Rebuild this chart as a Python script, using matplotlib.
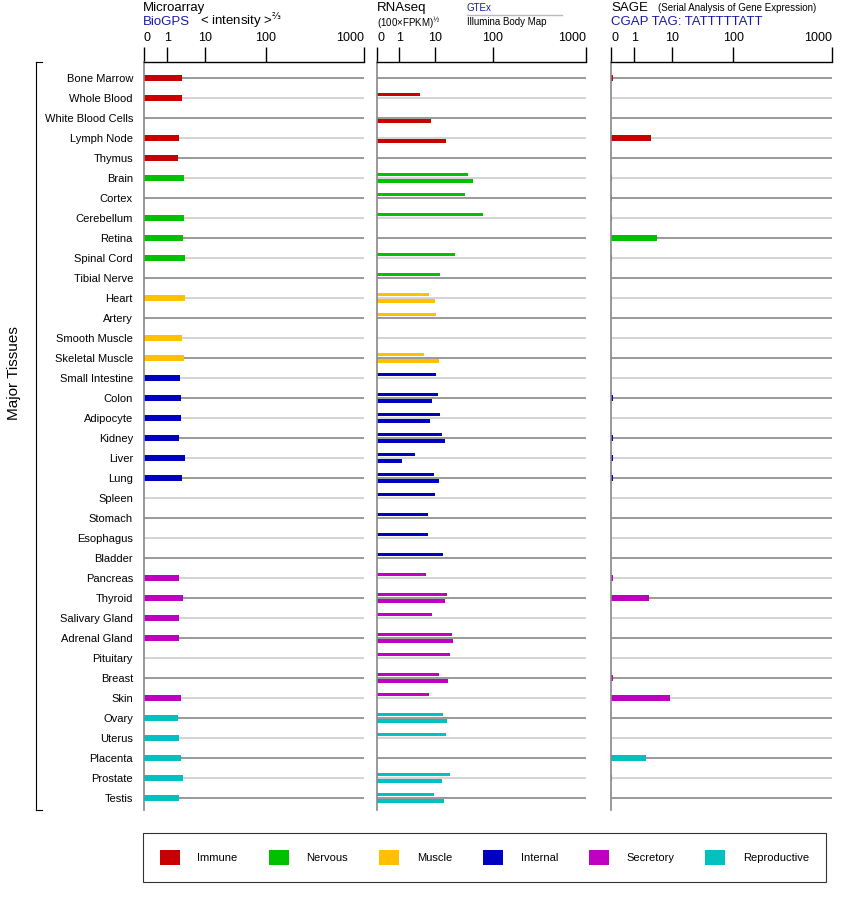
import numpy as np
import matplotlib.pyplot as plt
from matplotlib.patches import Patch
from matplotlib.lines import Line2D

plt.rcParams['font.family'] = 'Liberation Sans'

tissues = ['Bone Marrow', 'Whole Blood', 'White Blood Cells', 'Lymph Node', 'Thymus',
           'Brain', 'Cortex', 'Cerebellum', 'Retina', 'Spinal Cord', 'Tibial Nerve',
           'Heart', 'Artery', 'Smooth Muscle', 'Skeletal Muscle',
           'Small Intestine', 'Colon', 'Adipocyte', 'Kidney', 'Liver', 'Lung', 'Spleen',
           'Stomach', 'Esophagus', 'Bladder',
           'Pancreas', 'Thyroid', 'Salivary Gland', 'Adrenal Gland', 'Pituitary', 'Breast', 'Skin',
           'Ovary', 'Uterus', 'Placenta', 'Prostate', 'Testis']
groups = ['Immune'] * 5 + ['Nervous'] * 6 + ['Muscle'] * 4 + ['Internal'] * 10 + \
         ['Secretory'] * 7 + ['Reproductive'] * 5
group_names = ['Immune', 'Nervous', 'Muscle', 'Internal', 'Secretory', 'Reproductive']
group_colors = ['#c80000', '#00c000', '#ffc000', '#0000c0', '#c000c0', '#00c0c0']

microarray = [2.9, 2.9, 0, 2.4, 2.2,
              3.2, 0, 3.2, 3.0, 3.4, 0,
              3.4, 0, 2.9, 3.2,
              2.5, 2.7, 2.7, 2.4, 3.4, 2.9, 0, 0, 0, 0,
              2.4, 3.0, 2.4, 2.4, 0, 0, 2.7,
              2.2, 2.4, 2.7, 3.0, 2.4]
gtex = [0, 4.4, 0, 0, 0,
        38.1, 33.8, 68.7, 0, 22.7, 12.3,
        7.2, 10.4, 0, 5.5,
        10.4, 11.3, 12.3, 13.4, 3.2, 9.4, 10.0, 6.8, 6.8, 13.9,
        6.1, 16.4, 8.5, 20.1, 18.5, 11.8, 7.2,
        13.9, 15.7, 0, 18.5, 9.4]
illumina = [0, 0, 8.0, 15.7, 0,
            46.4, 0, 0, 0, 0, 0,
            10.0, 0, 0, 11.8,
            0, 8.5, 7.6, 15.1, 1.3, 11.8, 0, 0, 0, 0,
            0, 15.1, 0, 20.9, 0, 17.1, 0,
            16.4, 0, 0, 13.4, 14.5]
sage = [0.05, 0, 0, 3.2, 0,
        0.03, 0.03, 0.03, 4.5, 0.03, 0,
        0.03, 0, 0, 0.03,
        0, 0.05, 0, 0.05, 0.05, 0.05, 0, 0, 0, 0,
        0.05, 2.85, 0, 0, 0, 0.05, 8.8,
        0, 0, 2.34, 0.03, 0]

tick_vals = [0, 1, 10, 100, 1000]
tick_frac = [0, 0.106, 0.278, 0.553, 1.0]
u_anchor = np.log10(np.array(tick_vals) + 1.0)


def fwd(x):
    return np.interp(np.log10(np.clip(x, 0, None) + 1.0), u_anchor, tick_frac)


def inv(f):
    return 10 ** np.interp(f, tick_frac, u_anchor) - 1.0


W, H = 842, 900
fig = plt.figure(figsize=(W / 100, H / 100), dpi=100)
colors = [group_colors[group_names.index(g)] for g in groups]
rows = np.arange(len(tissues))


def make_panel(x0, x1):
    ax = fig.add_axes([x0 / W, 1 - 810 / H, (x1 - x0) / W, (810 - 62) / H])
    ax.set_xscale('function', functions=(fwd, inv))
    ax.set_xlim(0, 1000)
    ax.set_ylim(36.6, -0.8)
    for i in rows:
        ax.axhline(i, color='#888888' if i % 2 == 0 else '#cccccc', lw=1.2, zorder=0)
    ax.xaxis.tick_top()
    ax.set_xticks(tick_vals)
    ax.set_xticklabels([str(v) for v in tick_vals])
    ax.get_xticklabels()[-1].set_horizontalalignment('right')
    ax.get_xticklabels()[0].set_horizontalalignment('left')
    ax.xaxis.set_minor_locator(plt.NullLocator())
    ax.tick_params(axis='x', direction='out', length=11, width=1, labelsize=9, pad=2)
    ax.set_yticks([])
    for s in ['right', 'bottom']:
        ax.spines[s].set_visible(False)
    ax.spines['top'].set_linewidth(1)
    ax.spines['left'].set_color('#888888')
    ax.spines['left'].set_linewidth(1.2)
    return ax


ax1 = make_panel(144, 364)
ax1.barh(rows, microarray, height=0.27, color=colors, zorder=2)
ax1.set_yticks(rows)
ax1.set_yticklabels(tissues, fontsize=8)
ax1.tick_params(axis='y', length=0, pad=8)

ax2 = make_panel(377, 586)
ax2.barh(rows - 0.18, gtex, height=0.16, color=colors, zorder=2)
ax2.barh(rows + 0.15, illumina, height=0.16, color=colors, zorder=2)

ax3 = make_panel(611, 832)
ax3.barh(rows, sage, height=0.27, color=colors, zorder=2)

# header texts
def t(x, y, s, **kw):
    fig.text(x / W, 1 - y / H, s, va='center', ha='left', **kw)

blue = '#1a1aa0'
t(143, 8, 'Microarray', fontsize=9.5)
t(143, 22, 'BioGPS', fontsize=9.5, color=blue)
t(200, 21, r'< intensity >$^{⅔}$', fontsize=9.5)
t(377, 8, 'RNAseq', fontsize=9.5)
t(377, 23, r'(100×FPKM)$^{½}$', fontsize=7)
t(467, 8, 'GTEx', fontsize=7, color=blue)
fig.add_artist(Line2D([467 / W, 562 / W], [1 - 15 / H, 1 - 15 / H], color='#bbbbbb', lw=1))
t(467, 22, 'Illumina Body Map', fontsize=7)
t(611, 8, 'SAGE', fontsize=9.5)
t(658, 8, '(Serial Analysis of Gene Expression)', fontsize=7)
t(611, 22, 'CGAP TAG: TATTTTTATT', fontsize=9.5, color=blue)

# left bracket
bx = 36 / W
fig.add_artist(Line2D([bx, bx], [1 - 62 / H, 1 - 810 / H], color='black', lw=0.8))
for yy in (62, 810):
    fig.add_artist(Line2D([bx, bx + 6 / W], [1 - yy / H, 1 - yy / H], color='black', lw=0.8))
fig.text(14 / W, 1 - 373 / H, 'Major Tissues', rotation=90, va='center', ha='center', fontsize=11)

handles = [Patch(facecolor=c, edgecolor='none', label=n) for n, c in zip(group_names, group_colors)]
leg = fig.legend(handles=handles, loc='center', ncol=6, mode='expand',
                 bbox_to_anchor=(143 / W, 1 - 885 / H, 683 / W, 55 / H),
                 fontsize=8, handlelength=1.8, handleheight=1.8, handletextpad=1.6,
                 borderpad=1.5, fancybox=False, edgecolor='black', borderaxespad=0)
leg.get_frame().set_linewidth(0.8)

fig.savefig('out.png', dpi=100)
